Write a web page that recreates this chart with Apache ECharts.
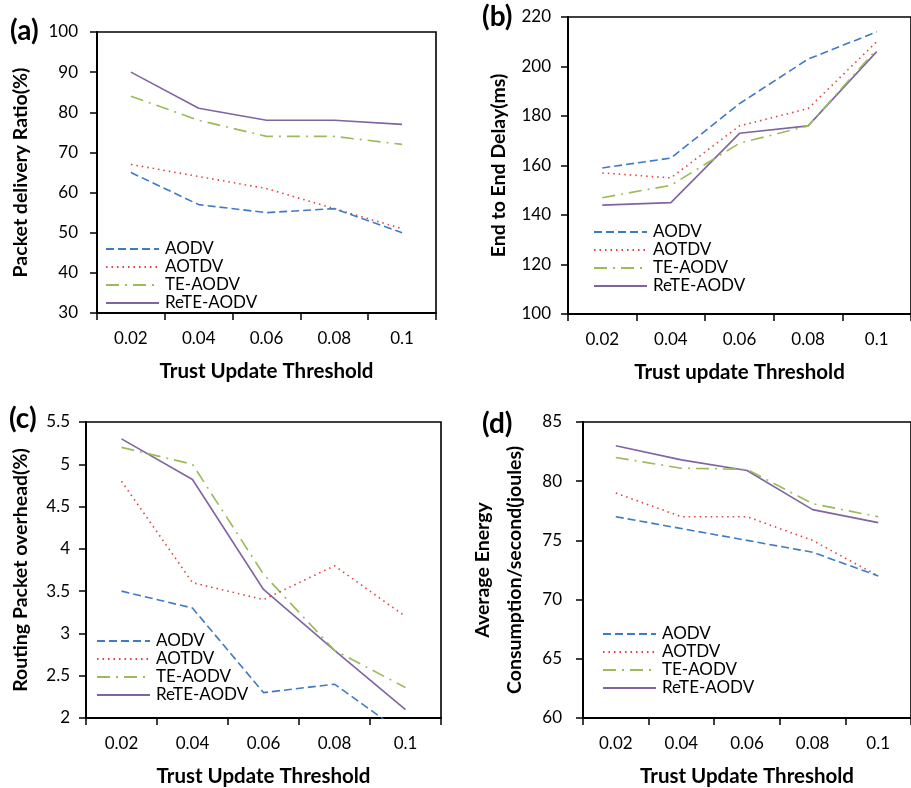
<!DOCTYPE html>
<html>
<head>
<meta charset="utf-8">
<script src="https://cdn.jsdelivr.net/npm/echarts@6/dist/echarts.min.js"></script>
<style>
  html, body { margin: 0; padding: 0; background: #fff; }
  #chart { width: 911px; height: 788px; }
</style>
</head>
<body>
<div id="chart"></div>
<script>
// x categories, shared by all four panels
const thresholds = ['0.02', '0.04', '0.06', '0.08', '0.1']
const protocols = ['AODV', 'AOTDV', 'TE-AODV', 'ReTE-AODV']

// (a) packet delivery ratio (%)
const pdrAodv = [65, 57, 55, 56, 50]
const pdrAotdv = [67, 64, 61, 56, 51]
const pdrTe = [84, 78, 74, 74, 72]
const pdrRete = [90, 81, 78, 78, 77]

// (b) end to end delay (ms)
const delayAodv = [159, 163, 185, 203, 214]
const delayAotdv = [157, 155, 176, 183, 210]
const delayTe = [147, 152, 169, 176, 207]
const delayRete = [144, 145, 173, 176, 206]

// (c) routing packet overhead (%)
const overheadAodv = [3.5, 3.3, 2.3, 2.4, 1.8]
const overheadAotdv = [4.8, 3.6, 3.4, 3.8, 3.2]
const overheadTe = [5.2, 5.0, 3.7, 2.8, 2.36]
const overheadRete = [5.3, 4.82, 3.52, 2.8, 2.1]

// (d) average energy consumption / second (joules)
const energyAodv = [77, 76, 75, 74, 72]
const energyAotdv = [79, 77, 77, 75, 72]
const energyTe = [82, 81.1, 81, 78.1, 77]
const energyRete = [83, 81.8, 80.9, 77.6, 76.5]

const FONT = 'Lato'

const styles = [
  { color: '#3f7ac6', type: [8, 4] },
  { color: '#e3413f', type: [1.5, 4] },
  { color: '#9bbb59', type: [13, 6, 2, 6] },
  { color: '#8064a2', type: 'solid' },
]

const panels = [
  {
    tag: '(a)', tagPos: [10, 17],
    grid: { left: 97, top: 32, width: 339, height: 281 },
    min: 30, max: 100, interval: 10, labelMargin: 19,
    xName: 'Trust Update Threshold',
    yName: 'Packet delivery Ratio(%)', yGap: 60,
    legend: { left: 105, top: 240 },
    data: [pdrAodv, pdrAotdv, pdrTe, pdrRete],
  },
  {
    tag: '(b)', tagPos: [482, 3],
    grid: { left: 568, top: 17, width: 348, height: 297 },
    min: 100, max: 220, interval: 20, labelMargin: 17,
    xName: 'Trust update Threshold',
    yName: 'End to End Delay(ms)', yGap: 53,
    legend: { left: 593, top: 223 },
    data: [delayAodv, delayAotdv, delayTe, delayRete],
  },
  {
    tag: '(c)', tagPos: [9, 405],
    grid: { left: 86, top: 422, width: 355, height: 297 },
    min: 2, max: 5.5, interval: 0.5, labelMargin: 16,
    xName: 'Trust Update Threshold',
    yName: 'Routing Packet overhead(%)', yGap: 49,
    legend: { left: 96, top: 632 },
    data: [overheadAodv, overheadAotdv, overheadTe, overheadRete],
  },
  {
    tag: '(d)', tagPos: [482, 410],
    grid: { left: 583, top: 422, width: 333, height: 297 },
    min: 60, max: 85, interval: 5, labelMargin: 21,
    xName: 'Trust Update Threshold',
    yName: 'Average Energy\nConsumption/second(joules)', yGap: 52,
    legend: { left: 602, top: 625 },
    data: [energyAodv, energyAotdv, energyTe, energyRete],
  },
]

const chart = echarts.init(document.getElementById('chart'), null, { renderer: 'canvas' })

const option = {
  backgroundColor: '#fff',
  animation: false,
  textStyle: { fontFamily: FONT },
  title: panels.map((p) => ({
    text: p.tag,
    left: p.tagPos[0],
    top: p.tagPos[1],
    padding: 0,
    textStyle: { fontFamily: FONT, fontSize: 28, fontWeight: 'bold', color: '#000' },
  })),
  grid: panels.map((p) => ({
    ...p.grid,
    show: true,
    borderColor: '#000',
    borderWidth: 1.6,
    containLabel: false,
  })),
  legend: panels.map((p) => ({
    data: protocols,
    orient: 'vertical',
    left: p.legend.left,
    top: p.legend.top,
    padding: 0,
    itemWidth: 53,
    itemHeight: 14,
    itemGap: 0,
    selectedMode: false,
    itemStyle: { opacity: 0 },
    textStyle: { fontFamily: FONT, fontSize: 17, lineHeight: 18, color: '#000', padding: [0, 0, 0, 1] },
  })),
  xAxis: panels.map((p, i) => ({
    type: 'category',
    gridIndex: i,
    data: thresholds,
    boundaryGap: true,
    name: p.xName,
    nameLocation: 'middle',
    nameGap: 48,
    nameTextStyle: { fontFamily: FONT, fontSize: 20.5, fontWeight: 'bold', color: '#000' },
    axisLine: { lineStyle: { color: '#000', width: 2 } },
    axisTick: { show: true, inside: false, length: 7, lineStyle: { color: '#000', width: 1.5 } },
    axisLabel: { fontFamily: FONT, fontSize: 17, color: '#000', margin: 17 },
    splitLine: { show: false },
  })),
  yAxis: panels.map((p, i) => ({
    type: 'value',
    gridIndex: i,
    min: p.min,
    max: p.max,
    interval: p.interval,
    name: p.yName,
    nameLocation: 'middle',
    nameGap: p.yGap,
    nameTextStyle: { fontFamily: FONT, fontSize: 19.5, fontWeight: 'bold', color: '#000', lineHeight: 32 },
    axisLine: { show: true, lineStyle: { color: '#000', width: 2 } },
    axisTick: { show: true, inside: false, length: 7, lineStyle: { color: '#000', width: 1.5 } },
    axisLabel: { fontFamily: FONT, fontSize: 17, color: '#000', margin: p.labelMargin },
    splitLine: { show: false },
  })),
  series: panels.flatMap((p, i) =>
    protocols.map((name, k) => ({
      name,
      type: 'line',
      xAxisIndex: i,
      yAxisIndex: i,
      data: p.data[k],
      symbol: 'none',
      clip: true,
      z: 10 - k,
      itemStyle: { color: styles[k].color },
      lineStyle: { color: styles[k].color, width: 1.6, type: styles[k].type },
    }))
  ),
}

chart.setOption(option)
</script>
</body>
</html>
